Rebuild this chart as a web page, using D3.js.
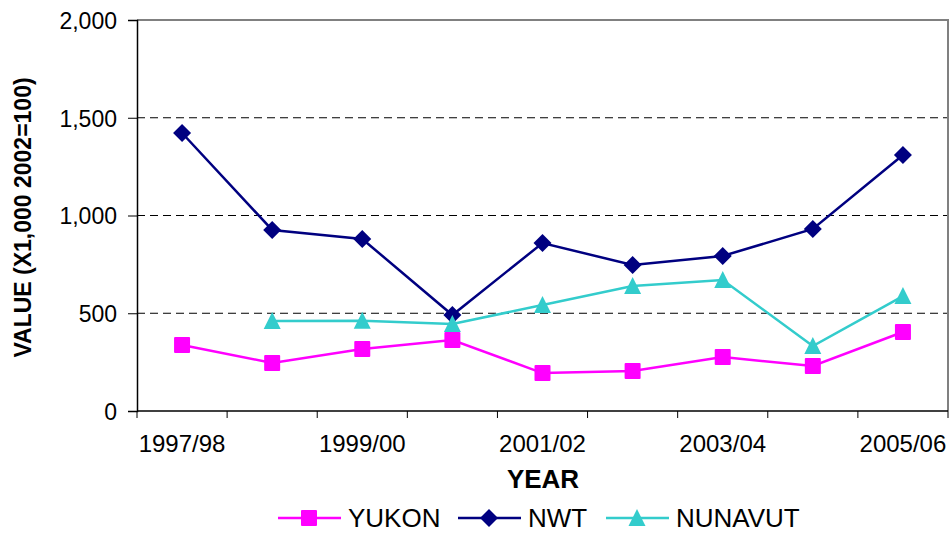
<!DOCTYPE html>
<html>
<head>
<meta charset="utf-8">
<script src="https://cdn.jsdelivr.net/npm/d3@7"></script>
<style>
  body { margin: 0; background: #fff; }
  text { font-family: "Liberation Sans", Arial, sans-serif; }
</style>
</head>
<body>
<div id="chart"></div>
<script>
// Data
const years = ["1997/98", "1998/99", "1999/00", "2000/01", "2001/02", "2002/03", "2003/04", "2004/05", "2005/06"];
const yukon = [338, 246, 317, 363, 194, 205, 276, 230, 404];
const nwt = [1422, 926, 880, 491, 859, 747, 793, 931, 1309];
const nunavut = [null, 460, 462, 445, 542, 639, 670, 332, 588];
const yTicks = [0, 500, 1000, 1500, 2000];

const series = [
    { name: "YUKON", values: yukon, color: "#ff00ff", marker: "square" },
    { name: "NWT", values: nwt, color: "#000080", marker: "diamond" },
    { name: "NUNAVUT", values: nunavut, color: "#33cccc", marker: "triangle" }
];

// Config
const width = 952;
const height = 533;
const margin = { top: 20, right: 4, bottom: 122, left: 137 };
const plotW = width - margin.left - margin.right;
const plotH = height - margin.top - margin.bottom;

const svg = d3.select("#chart").append("svg")
    .attr("width", width)
    .attr("height", height);

const g = svg.append("g").attr("transform", `translate(${margin.left},${margin.top})`);

const x = d3.scaleBand().domain(years).range([0, plotW]);
const y = d3.scaleLinear().domain([0, 2000]).range([plotH, 0]);

// Gridlines
g.append("g")
    .selectAll("line")
    .data(yTicks.filter(d => d > 0 && d < 2000))
    .join("line")
    .attr("x1", 0).attr("x2", plotW)
    .attr("y1", d => y(d)).attr("y2", d => y(d))
    .attr("stroke", "#000")
    .attr("stroke-width", 1)
    .attr("stroke-dasharray", "8,5");

// Plot border (top and right in grey)
g.append("path")
    .attr("d", `M0,${y(2000)}H${plotW}V${plotH}`)
    .attr("fill", "none")
    .attr("stroke", "#808080")
    .attr("stroke-width", 2);

// Y axis
const yAxis = g.append("g")
    .call(d3.axisLeft(y).tickValues(yTicks).tickSize(9).tickPadding(11).tickFormat(d3.format(",")));
yAxis.select(".domain").attr("stroke", "#000").attr("stroke-width", 1.5);
yAxis.selectAll("text").attr("font-size", 23).attr("fill", "#000").attr("dy", "0.36em");

// X axis: ticks between categories
const boundaries = d3.range(years.length + 1).map(i => i * x.step());
const xAxisG = g.append("g").attr("transform", `translate(0,${plotH})`);
xAxisG.append("line")
    .attr("x1", 0).attr("x2", plotW)
    .attr("stroke", "#000").attr("stroke-width", 1.5);
xAxisG.selectAll(".xtick")
    .data(boundaries)
    .join("line")
    .attr("class", "xtick")
    .attr("x1", d => d).attr("x2", d => d)
    .attr("y1", 0).attr("y2", 7)
    .attr("stroke", "#000");
xAxisG.selectAll(".xlabel")
    .data(years.filter((d, i) => i % 2 === 0))
    .join("text")
    .attr("class", "xlabel")
    .attr("x", d => x(d) + x.bandwidth() / 2)
    .attr("y", 41)
    .attr("text-anchor", "middle")
    .attr("font-size", 24)
    .text(d => d);

// Axis titles
svg.append("text")
    .attr("x", 543)
    .attr("y", 488)
    .attr("text-anchor", "middle")
    .attr("font-size", 26)
    .attr("font-weight", "bold")
    .text("YEAR");

svg.append("text")
    .attr("transform", `translate(31,${margin.top + plotH / 2 + 2}) rotate(-90)`)
    .attr("text-anchor", "middle")
    .attr("font-size", 23)
    .attr("font-weight", "bold")
    .text("VALUE (X1,000 2002=100)");

// Markers
function drawMarker(sel, type, color) {
    if (type === "square") {
        sel.append("rect").attr("x", -8).attr("y", -8).attr("width", 16).attr("height", 16)
            .attr("fill", color).attr("rx", 1);
    } else if (type === "diamond") {
        sel.append("path").attr("d", "M0,-9L9,0L0,9L-9,0Z").attr("fill", color);
    } else {
        sel.append("path").attr("d", "M0,-9L8.5,8L-8.5,8Z").attr("fill", color);
    }
}

series.forEach(s => {
    const lineFn = d3.line()
        .defined(d => d.v != null)
        .x(d => x(d.year) + x.bandwidth() / 2)
        .y(d => y(d.v));
    const pts = s.values.map((v, i) => ({ year: years[i], v }));
    g.append("path")
        .datum(pts)
        .attr("d", lineFn)
        .attr("fill", "none")
        .attr("stroke", s.color)
        .attr("stroke-width", 2.5);
    g.append("g")
        .selectAll("g")
        .data(pts.filter(d => d.v != null))
        .join("g")
        .attr("transform", d => `translate(${x(d.year) + x.bandwidth() / 2},${y(d.v)})`)
        .each(function() { drawMarker(d3.select(this), s.marker, s.color); });
});

// Legend
const legendX = [278, 458, 606];
const legend = svg.append("g").attr("transform", "translate(0,518)");
series.forEach((s, i) => {
    const lg = legend.append("g").attr("transform", `translate(${legendX[i]},0)`);
    lg.append("line").attr("x1", 0).attr("x2", 63).attr("stroke", s.color).attr("stroke-width", 2.5);
    drawMarker(lg.append("g").attr("transform", "translate(31,0)"), s.marker, s.color);
    lg.append("text")
        .attr("x", 70)
        .attr("y", 9)
        .attr("font-size", 26)
        .text(s.name);
});
</script>
</body>
</html>
